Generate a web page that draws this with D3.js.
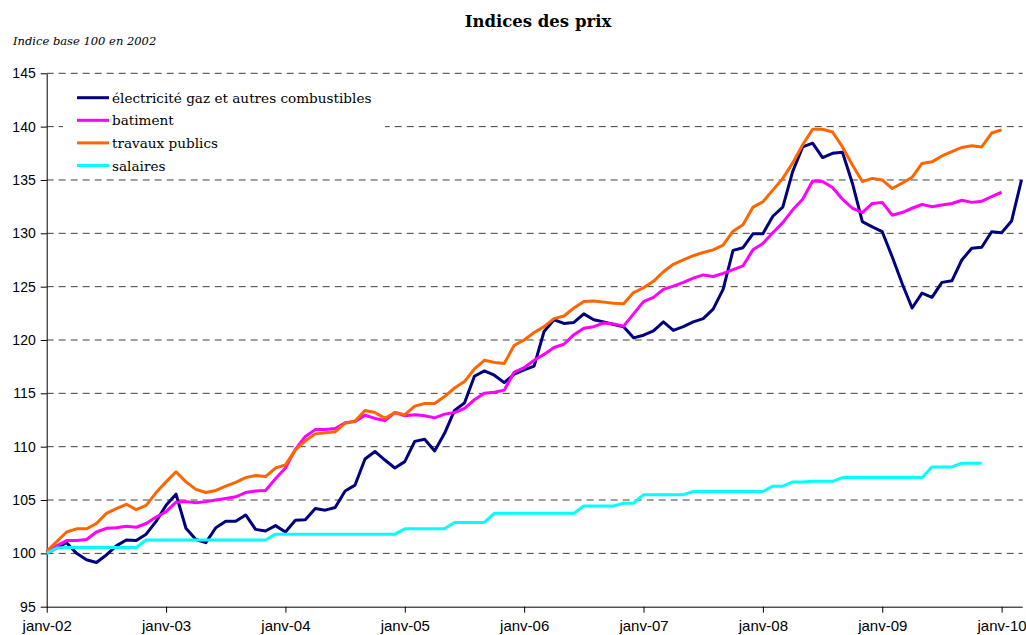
<!DOCTYPE html>
<html>
<head>
<meta charset="utf-8">
<script src="https://cdn.jsdelivr.net/npm/d3@7"></script>
<style>
html,body{margin:0;padding:0;background:#fff;}
svg{display:block;}
</style>
</head>
<body>
<svg id="chart" width="1026" height="635"></svg>
<script>
// ---- data ----
const yearTickLabels = ["janv-02","janv-03","janv-04","janv-05","janv-06","janv-07","janv-08","janv-09","janv-10"];
const yTicks = [95,100,105,110,115,120,125,130,135,140,145];
const seriesNames = ["électricité gaz et autres combustibles","batiment","travaux publics","salaires"];
const seriesColors = ["#000080","#ff00ff","#ff6600","#00ffff"];

const electricite = [100.0,100.5,101.0,100.0,99.4,99.15,99.85,100.7,101.25,101.2,101.8,103.0,
  104.5,105.55,102.35,101.3,101.0,102.4,103.0,103.0,103.6,102.25,102.1,102.6,
  102.0,103.1,103.15,104.2,104.05,104.3,105.85,106.4,108.85,109.55,108.75,108.0,
  108.6,110.5,110.7,109.6,111.25,113.4,114.1,116.6,117.1,116.7,116.0,116.8,
  117.2,117.55,120.8,121.9,121.55,121.65,122.45,121.9,121.7,121.45,121.25,120.2,
  120.45,120.85,121.7,120.9,121.25,121.7,122.0,122.9,124.75,128.4,128.65,129.95,
  129.95,131.6,132.45,135.8,138.1,138.45,137.1,137.5,137.6,134.7,131.1,130.6,
  130.15,127.8,125.3,123.0,124.4,124.0,125.4,125.55,127.5,128.6,128.7,130.15,
  130.05,131.15,135.0];

const batiment = [100.1,100.7,101.2,101.2,101.3,102.0,102.35,102.4,102.55,102.45,102.8,103.4,
  103.9,104.8,104.85,104.75,104.85,105.0,105.15,105.3,105.7,105.85,105.9,107.0,
  108.0,109.75,110.95,111.6,111.6,111.7,112.25,112.35,112.95,112.65,112.45,113.2,
  112.9,113.0,112.9,112.7,113.05,113.2,113.6,114.4,115.0,115.1,115.3,117.0,
  117.4,118.1,118.65,119.3,119.6,120.5,121.1,121.25,121.6,121.5,121.3,122.45,
  123.6,124.0,124.75,125.05,125.4,125.8,126.1,125.95,126.25,126.6,126.95,128.45,
  129.05,130.05,131.0,132.2,133.2,134.9,134.85,134.3,133.2,132.35,131.95,132.8,
  132.9,131.7,131.95,132.35,132.7,132.5,132.65,132.8,133.1,132.9,133.0,133.45,
  133.85];

const travauxPublics = [100.2,101.1,102.0,102.3,102.3,102.8,103.75,104.2,104.6,104.1,104.5,105.7,
  106.7,107.65,106.7,106.0,105.7,105.9,106.3,106.65,107.1,107.3,107.2,108.0,
  108.3,109.7,110.55,111.2,111.3,111.4,112.2,112.4,113.4,113.2,112.65,113.2,
  113.0,113.8,114.05,114.05,114.7,115.5,116.1,117.3,118.1,117.9,117.8,119.5,
  120.0,120.7,121.25,122.0,122.25,123.0,123.6,123.65,123.55,123.45,123.4,124.45,
  124.9,125.5,126.4,127.1,127.5,127.9,128.2,128.45,128.9,130.2,130.8,132.45,
  132.95,134.05,135.15,136.6,138.3,139.75,139.75,139.5,138.1,136.4,134.85,135.15,
  135.0,134.2,134.7,135.25,136.55,136.7,137.25,137.65,138.05,138.2,138.1,139.4,
  139.7];

const salaires = [100.0,100.5,100.55,100.55,100.55,100.55,100.55,100.55,100.55,100.55,101.25,101.25,
  101.25,101.25,101.25,101.25,101.25,101.25,101.25,101.25,101.25,101.25,101.25,101.8,
  101.8,101.8,101.8,101.8,101.8,101.8,101.8,101.8,101.8,101.8,101.8,101.8,
  102.3,102.3,102.3,102.3,102.3,102.9,102.9,102.9,102.9,103.75,103.75,103.75,
  103.75,103.75,103.75,103.75,103.75,103.75,104.45,104.45,104.45,104.45,104.7,104.7,
  105.5,105.5,105.5,105.5,105.5,105.8,105.8,105.8,105.8,105.8,105.8,105.8,
  105.8,106.3,106.3,106.7,106.7,106.75,106.75,106.75,107.1,107.1,107.1,107.1,
  107.1,107.1,107.1,107.1,107.1,108.1,108.1,108.1,108.45,108.45,108.45];

const allSeries = [electricite, batiment, travauxPublics, salaires];

// ---- layout ----
const svg = d3.select("#chart");
const plotL = 46.7, plotR = 1022.7, plotT = 73.3, plotB = 606.7;

// x: month index since janv-02
const x = d3.scaleLinear().domain([0, 98]).range([plotL, 1021.5]);
const y = d3.scaleLinear().domain([95, 145]).range([plotB, plotT]);

// grid lines
svg.append("g").selectAll("line")
  .data(yTicks.filter(d => d > 95))
  .join("line")
  .attr("x1", plotL).attr("x2", plotR)
  .attr("y1", d => y(d)).attr("y2", d => y(d))
  .attr("stroke", "#404040").attr("stroke-width", 1)
  .attr("stroke-dasharray", "7,5");

// y axis
const yAxis = d3.axisLeft(y).tickValues(yTicks).tickSize(6).tickSizeOuter(0).tickPadding(5);
const gy = svg.append("g").attr("transform", `translate(${plotL},0)`).call(yAxis);
gy.select(".domain").attr("stroke", "#000");
gy.selectAll(".tick line").attr("stroke", "#000");
gy.selectAll("text").attr("font-family", "Liberation Sans, Arial, sans-serif")
  .attr("font-size", 14).attr("fill", "#000");

// x axis
const xTickVals = yearTickLabels.map((d, i) => i * 12);
const xAxis = d3.axisBottom(x).tickValues(xTickVals)
  .tickFormat((d, i) => yearTickLabels[i]).tickSize(6).tickSizeOuter(0).tickPadding(8);
const gx = svg.append("g").attr("transform", `translate(0,${plotB})`).call(xAxis);
gx.select(".domain").attr("d", `M${plotL},0.5H${plotR}`).attr("stroke", "#000");
gx.selectAll(".tick line").attr("stroke", "#000");
gx.selectAll("text").attr("font-family", "Liberation Sans, Arial, sans-serif")
  .attr("font-size", 15).attr("fill", "#000");

// legend background (hides grid behind legend)
svg.append("rect").attr("x", 63).attr("y", 84).attr("width", 322).attr("height", 90)
  .attr("fill", "#fff");

// lines
const line = d3.line().x((d, i) => x(i)).y(d => y(d));
svg.append("g").selectAll("path")
  .data(allSeries)
  .join("path")
  .attr("d", d => line(d))
  .attr("fill", "none")
  .attr("stroke", (d, i) => seriesColors[i])
  .attr("stroke-width", 3)
  .attr("stroke-linejoin", "round");

// legend
const lg = svg.append("g");
const rowY = [97.7, 120.3, 142.9, 165.5];
seriesNames.forEach((name, i) => {
  lg.append("line").attr("x1", 77).attr("x2", 109)
    .attr("y1", rowY[i]).attr("y2", rowY[i])
    .attr("stroke", seriesColors[i]).attr("stroke-width", 3);
  lg.append("text").attr("x", 112).attr("y", rowY[i] + 5)
    .attr("font-family", "DejaVu Serif, serif").attr("font-size", 13.6)
    .attr("fill", "#000").text(name);
});

// title & subtitle
svg.append("text").attr("x", 538).attr("y", 27).attr("text-anchor", "middle")
  .attr("font-family", "DejaVu Serif, serif").attr("font-weight", "bold")
  .attr("font-size", 16.5).text("Indices des prix");
svg.append("text").attr("x", 13).attr("y", 45)
  .attr("font-family", "DejaVu Serif, serif").attr("font-style", "italic")
  .attr("font-size", 11.5).text("Indice base 100 en 2002");
</script>
</body>
</html>
